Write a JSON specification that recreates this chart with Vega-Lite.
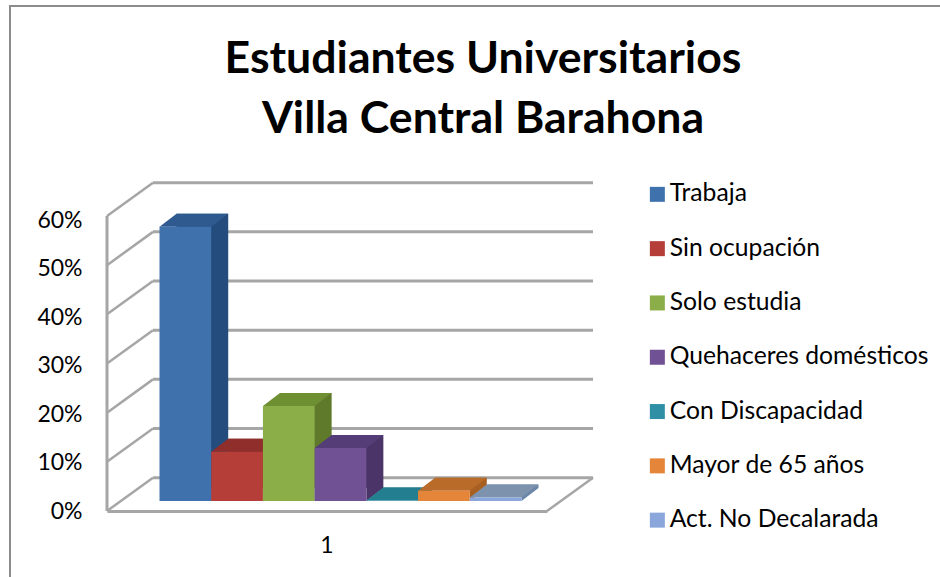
{
"$schema":"https://vega.github.io/schema/vega-lite/v6.json",
"width":950,"height":591,
"autosize":"none",
"padding":{"left":10,"top":6,"right":-20,"bottom":-20},
"background":"white",
"config":{"view":{"stroke":"#8c8c8c","strokeWidth":2,"fill":"white"},"font":"Lato"},
"title":{"text":["Estudiantes Universitarios","Villa Central Barahona"],"font":"Lato","fontWeight":"bold","fontSize":44.6,"color":"#000000","anchor":"middle","frame":"group","lineHeight":60,"dx":-2,"dy":176,"baseline":"alphabetic"},
"datasets":{
"barras":[
{"grupo":"1","categoria":"Trabaja","valor":0.558},
{"grupo":"1","categoria":"Sin ocupación","valor":0.1},
{"grupo":"1","categoria":"Solo estudia","valor":0.193},
{"grupo":"1","categoria":"Quehaceres domésticos","valor":0.108},
{"grupo":"1","categoria":"Con Discapacidad","valor":0.001},
{"grupo":"1","categoria":"Mayor de 65 años","valor":0.021},
{"grupo":"1","categoria":"Act. No Decalarada","valor":0.007}],
"rejilla":[
{"tick":0,"fondo":0.0677},{"tick":0.1,"fondo":0.1677},{"tick":0.2,"fondo":0.2677},{"tick":0.3,"fondo":0.3677},{"tick":0.4,"fondo":0.4677},{"tick":0.5,"fondo":0.5677},{"tick":0.6,"fondo":0.6677}]
},
"data":{"name":"barras"},
"layer":[
{"mark":{"type":"bar","opacity":0},
 "encoding":{
  "x":{"field":"grupo","type":"nominal","scale":{"type":"band","range":[97,537],"paddingInner":0,"paddingOuter":0.1},
   "axis":{"title":null,"orient":"bottom","offset":-86,"labelAngle":0,"labelFont":"Lato","labelFontSize":23,"labelColor":"#000000","ticks":false,"labelPadding":23,"domainColor":"#a6a6a6","domainWidth":3}},
  "y":{"field":"valor","type":"quantitative","scale":{"domain":[0,0.6],"range":[505,214],"nice":false},
   "axis":{"title":null,"orient":"left","offset":-97,"values":[0,0.1,0.2,0.3,0.4,0.5,0.6],"format":".0%","grid":false,"ticks":false,"labelPadding":25,"labelFont":"Lato","labelFontSize":23,"labelColor":"#000000","domain":false}}
 }},
{"data":{"values":[{"tick":0,"tope":0.6}]},"mark":{"type":"rule","color":"#a6a6a6","strokeWidth":3},
 "encoding":{
  "x":{"datum":0,"type":"quantitative","scale":{"domain":[0,1],"range":[97,143]},"axis":null},
  "y":{"field":"tick","type":"quantitative","scale":{"domain":[0,0.6],"range":[505,210],"nice":false},"axis":null},
  "y2":{"field":"tope"}
 }},
{"data":{"name":"rejilla"},"mark":{"type":"rule","color":"#a6a6a6","strokeWidth":3},
 "encoding":{
  "x":{"datum":0,"type":"quantitative","scale":{"domain":[0,1],"range":[143,583]},"axis":null},
  "x2":{"datum":1},
  "y":{"field":"tick","type":"quantitative","scale":{"domain":[0,0.6],"range":[471.7,176.7],"nice":false},"axis":null}
 }},
{"data":{"name":"rejilla"},"mark":{"type":"rule","color":"#a6a6a6","strokeWidth":2.5},
 "encoding":{
  "x":{"datum":0,"type":"quantitative","scale":{"domain":[0,1],"range":[97,143]},"axis":null},
  "x2":{"datum":1},
  "y":{"field":"tick","type":"quantitative","scale":{"domain":[0,0.6],"range":[505,210],"nice":false},"axis":null},
  "y2":{"field":"fondo"}
 }},
{"data":{"values":[{"tick":0,"fondo":0.0677}]},"mark":{"type":"rule","color":"#a6a6a6","strokeWidth":2.5},
 "encoding":{
  "x":{"datum":0,"type":"quantitative","scale":{"domain":[0,1],"range":[537,583]},"axis":null},
  "x2":{"datum":1},
  "y":{"field":"tick","type":"quantitative","scale":{"domain":[0,0.6],"range":[505,210],"nice":false},"axis":null},
  "y2":{"field":"fondo"}
 }},
{"mark":{"type":"bar"},
 "encoding":{
  "x":{"field":"grupo","type":"nominal","scale":{"type":"band","range":[166.5,528.5],"padding":0},"axis":null},
  "xOffset":{"field":"categoria","sort":null,"scale":{"type":"band","padding":0,"range":[0,362],"domain":["Trabaja","Sin ocupación","Solo estudia","Quehaceres domésticos","Con Discapacidad","Mayor de 65 años","Act. No Decalarada"]}},
  "y":{"field":"valor","type":"quantitative","scale":{"domain":[0,0.6],"range":[482,187],"nice":false},"axis":null},
  "color":{"field":"categoria","legend":null,"scale":{"domain":["Trabaja","Sin ocupación","Solo estudia","Quehaceres domésticos","Con Discapacidad","Mayor de 65 años","Act. No Decalarada"],"range":["#244c7c","#7c2a28","#5f7a2a","#4b3568","#1f6f80","#a85f22","#6a85a8"]}}
 }},
{"mark":{"type":"point","filled":true,"size":4,"opacity":1,"strokeWidth":0,"shape":"M25.85,0 L42.85,-13 L25.85,-13 Z"},
 "encoding":{
  "x":{"field":"grupo","type":"nominal","scale":{"type":"band","range":[149.5,511.5],"padding":0},"axis":null},
  "xOffset":{"field":"categoria","sort":null},
  "y":{"datum":0,"type":"quantitative","scale":{"domain":[0,0.6],"range":[495,200],"nice":false},"axis":null},
  "color":{"field":"categoria","legend":null,"scale":{"domain":["Trabaja","Sin ocupación","Solo estudia","Quehaceres domésticos","Con Discapacidad","Mayor de 65 años","Act. No Decalarada"],"range":["#244c7c","#7c2a28","#5f7a2a","#4b3568","#1f6f80","#a85f22","#6a85a8"]}}
 }},
{"mark":{"type":"point","filled":true,"size":4,"opacity":1,"strokeWidth":0,"shape":"M-25.85,0 L25.85,0 L42.85,-13 L-8.85,-13 Z"},
 "encoding":{
  "x":{"field":"grupo","type":"nominal","scale":{"type":"band","range":[149.5,511.5],"padding":0},"axis":null},
  "xOffset":{"field":"categoria","sort":null},
  "y":{"field":"valor","type":"quantitative","scale":{"domain":[0,0.6],"range":[495,200],"nice":false},"axis":null},
  "color":{"field":"categoria","legend":null,"scale":{"domain":["Trabaja","Sin ocupación","Solo estudia","Quehaceres domésticos","Con Discapacidad","Mayor de 65 años","Act. No Decalarada"],"range":["#2f5a90","#8f2e2b","#6f8f33","#553d78","#237f90","#b96c2a","#7d93ad"]}}
 }},
{"mark":{"type":"bar"},
 "encoding":{
  "x":{"field":"grupo","type":"nominal","scale":{"type":"band","range":[149.5,511.5],"padding":0},"axis":null},
  "xOffset":{"field":"categoria","sort":null},
  "y":{"field":"valor","type":"quantitative","scale":{"domain":[0,0.6],"range":[495,200],"nice":false},"axis":null},
  "color":{"field":"categoria","title":null,"scale":{"domain":["Trabaja","Sin ocupación","Solo estudia","Quehaceres domésticos","Con Discapacidad","Mayor de 65 años","Act. No Decalarada"],"range":["#3f72ac","#b53e39","#8bae48","#705194","#2f8fa5","#e5853a","#8aa6db"]},
   "legend":{"orient":"none","legendX":635,"legendY":176,"labelFont":"Lato","labelFontSize":24.7,"labelColor":"#000000","symbolType":"square","symbolSize":225,"symbolStrokeWidth":0,"rowPadding":28.3,"labelOffset":0,"labelLimit":400}}
 }}
],
"resolve":{"scale":{"x":"independent","y":"independent","color":"independent"}}
}
